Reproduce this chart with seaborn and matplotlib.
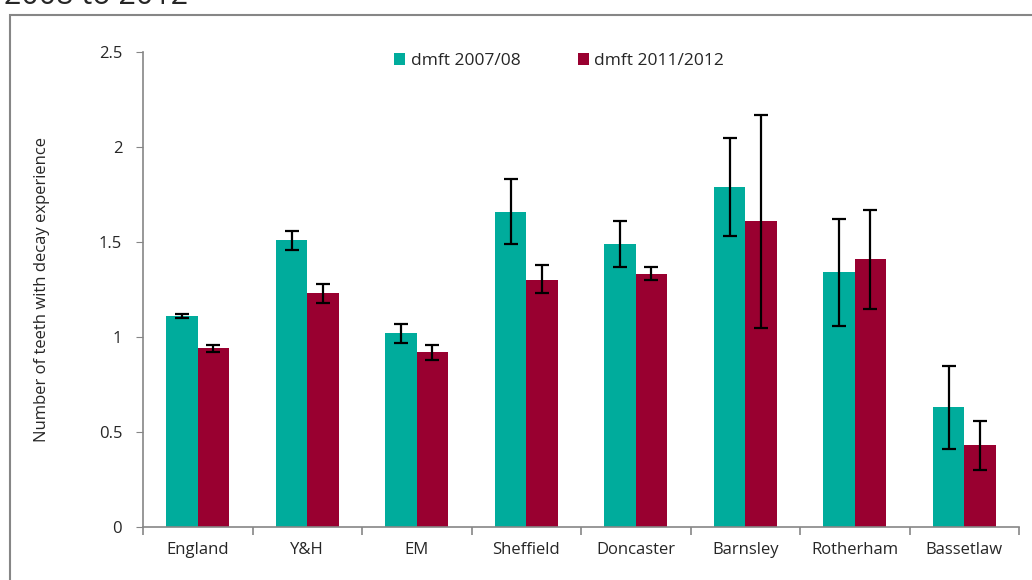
import matplotlib
matplotlib.use('Agg')
import matplotlib.pyplot as plt
import numpy as np
import pandas as pd
import seaborn as sns
from matplotlib.patches import Rectangle

# data
areas = ['England', 'Y&H', 'EM', 'Sheffield', 'Doncaster', 'Barnsley', 'Rotherham', 'Bassetlaw']
series = ['dmft 2007/08', 'dmft 2011/2012']
dmft_0708 = [1.11, 1.51, 1.02, 1.66, 1.49, 1.79, 1.34, 0.63]
dmft_1112 = [0.94, 1.23, 0.92, 1.30, 1.33, 1.61, 1.41, 0.43]
# confidence interval bounds
low_0708 = [1.10, 1.46, 0.97, 1.49, 1.37, 1.53, 1.06, 0.41]
high_0708 = [1.12, 1.56, 1.07, 1.83, 1.61, 2.05, 1.62, 0.85]
low_1112 = [0.92, 1.18, 0.88, 1.23, 1.30, 1.05, 1.15, 0.30]
high_1112 = [0.96, 1.28, 0.96, 1.38, 1.37, 2.17, 1.67, 0.56]

colors = ['#00ac9c', '#990030']
axis_grey = '#868686'

df = pd.DataFrame({
    'area': areas * 2,
    'series': [series[0]] * len(areas) + [series[1]] * len(areas),
    'value': dmft_0708 + dmft_1112,
})

sns.set_style('white')
plt.rcParams['font.family'] = ['Open Sans', 'DejaVu Sans']

fig = plt.figure(figsize=(10.32, 5.8), dpi=100)
ax = fig.add_axes([143 / 1032, 53 / 580, (1019 - 143) / 1032, (527 - 52) / 580])

sns.barplot(data=df, x='area', y='value', hue='series', order=areas,
            hue_order=series, palette=colors, width=0.575, saturation=1,
            errorbar=None, ax=ax, linewidth=0)

# error bars at the centres of the drawn bars
lows = [low_0708, low_1112]
highs = [high_0708, high_1112]
vals = [dmft_0708, dmft_1112]
for cont, v, lo, hi in zip(ax.containers, vals, lows, highs):
    xs = [p.get_x() + p.get_width() / 2 for p in cont.patches]
    v = np.array(v)
    yerr = [v - np.array(lo), np.array(hi) - v]
    ax.errorbar(xs, v, yerr=yerr, fmt='none', ecolor='black',
                elinewidth=1.6, capsize=5, capthick=1.6)

ax.set_xlim(-0.5, len(areas) - 0.5)
ax.set_ylim(0, 2.5)
ax.set_yticks([0, 0.5, 1, 1.5, 2, 2.5])
ax.set_yticklabels(['0', '0.5', '1', '1.5', '2', '2.5'])
ax.set_xlabel('')
ax.set_ylabel('Number of teeth with decay experience', fontsize=12)
ax.yaxis.set_label_coords(-0.106, 0.5)

sns.despine(ax=ax)
for s in ['left', 'bottom']:
    ax.spines[s].set_color(axis_grey)
    ax.spines[s].set_linewidth(1.2)

ax.tick_params(axis='y', which='major', length=5, color=axis_grey, labelsize=12, pad=10, left=True)
ax.tick_params(axis='x', which='major', length=0, labelsize=12, pad=11)
ax.set_xticks(np.arange(-0.5, len(areas)), minor=True)
ax.tick_params(axis='x', which='minor', length=6, color=axis_grey, width=1.2, bottom=True)

leg = ax.legend(loc='upper center', bbox_to_anchor=(0.475, 1.03), ncol=2, frameon=False,
                fontsize=12.5, handlelength=0.65, handleheight=0.65, columnspacing=3.3,
                handletextpad=0.3)

# outer chart frame and cut-off title
fig.patches.append(Rectangle((10 / 1032, -0.1), 1.2, 1 - 15 / 580 + 0.1,
                             transform=fig.transFigure, fill=False,
                             edgecolor=axis_grey, linewidth=1.5))
fig.text(4 / 1032, 1 - 4 / 580, '2008 to 2012', fontsize=22,
         va='baseline', ha='left')

fig.savefig('out.png', dpi=100)
